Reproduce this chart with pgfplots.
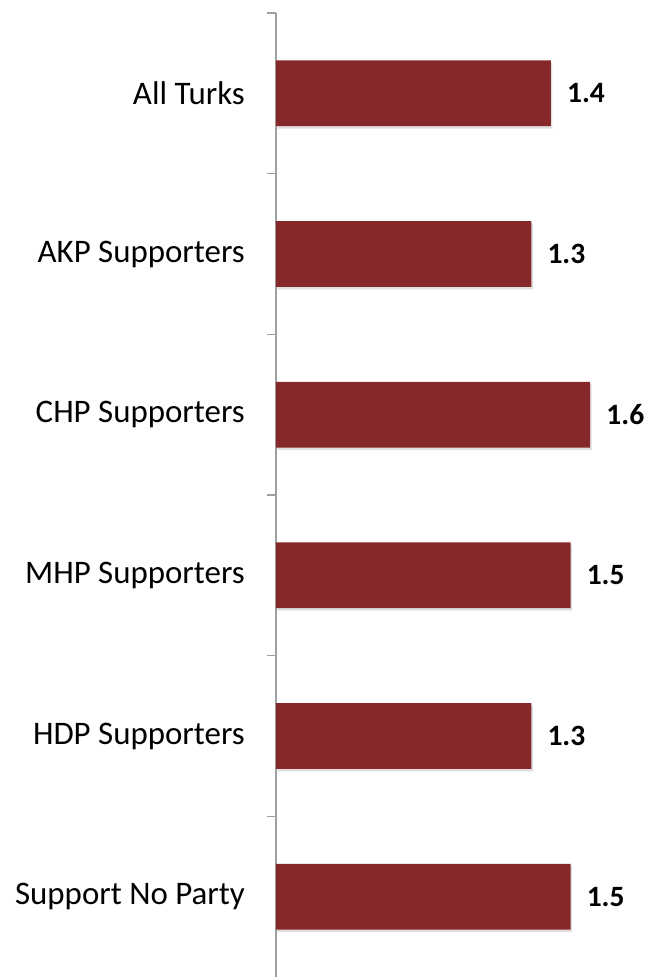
\documentclass[border=0pt]{standalone}
\usepackage{pgfplots}
\pgfplotsset{compat=1.18}
\usepackage{fontspec}
\setmainfont{Carlito}
\usetikzlibrary{shadows}
\definecolor{barred}{HTML}{86282A}
\definecolor{axgray}{HTML}{A0A0A0}
\begin{document}
\begin{tikzpicture}[x=1pt,y=1pt]
\path[use as bounding box] (-276,0) rectangle (381,977);
\begin{axis}[
  at={(0,0)}, anchor=south west,
  scale only axis, width=381pt, height=964pt,
  xbar, bar width=65.7pt,
  xmin=0, xmax=1.94,
  ymin=-0.5, ymax=5.5, y dir=reverse,
  hide x axis,
  axis y line*=left,
  axis line style={axgray, line width=1.3pt},
  ytick={0,1,2,3,4,5},
  yticklabels={All Turks, AKP Supporters, CHP Supporters, MHP Supporters, HDP Supporters, Support No Party},
  major tick length=0pt,
  yticklabel style={font=\fontsize{32.9}{32.9}\selectfont, anchor=east, inner sep=0pt, xshift=-31pt},
  extra y ticks={-0.5,0.5,1.5,2.5,3.5,4.5},
  extra y tick labels={},
  extra y tick style={major tick length=9pt, ytick align=outside, tick style={axgray, line width=1.3pt}},
  /pgf/number format/assume math mode=true,
  /pgf/number format/fixed, /pgf/number format/fixed zerofill, /pgf/number format/precision=1,
  nodes near coords,
  every node near coord/.append style={font=\bfseries\fontsize{29.5}{29.5}\selectfont, anchor=west, inner sep=0pt, xshift=16pt, black},
  clip=false,
]
\addplot[fill=barred, draw=none, drop shadow={opacity=0.25, shadow xshift=1.5pt, shadow yshift=-2.5pt}] coordinates {
  (1.4,0) (1.3,1) (1.6,2) (1.5,3) (1.3,4) (1.5,5)
};
\end{axis}
\end{tikzpicture}
\end{document}
